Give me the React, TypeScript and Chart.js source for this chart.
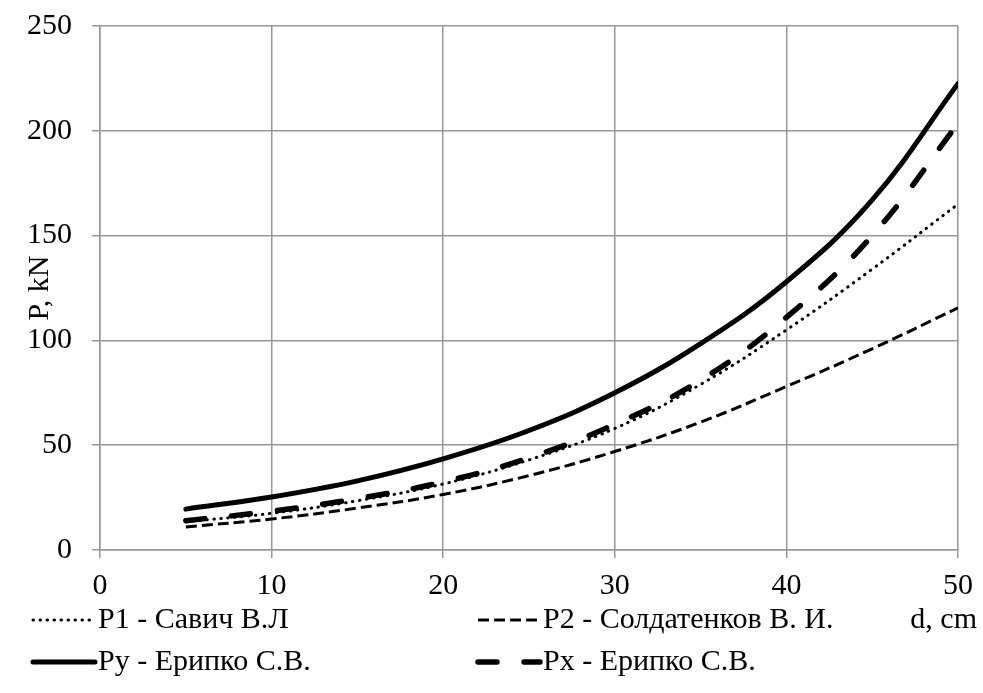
import { useEffect, useRef } from "react";
import { Chart, registerables } from "chart.js";

Chart.register(...registerables);

// Pile diameter d, cm
const diameters = [5, 10, 15, 20, 25, 30, 35, 40, 45, 50];

// Load P, kN for each method
const p1Savich = [13.5, 17.5, 23.5, 31.5, 43, 58, 79, 105, 134, 165];
const p2Soldatenkov = [11, 14.8, 20, 26.5, 35.5, 47, 61, 78, 96, 115.5];
const pyEripko = [19.5, 25.3, 33, 43.5, 57, 75, 98.5, 128, 167, 222.5];
const pxEripko = [14, 18.5, 24.5, 32.5, 44, 60, 81, 111, 150, 203.5];

const seriesLabels = [
  "P1 - Савич В.Л",
  "P2 - Солдатенков В. И.",
  "Py - Ерипко С.В.",
  "Px - Ерипко С.В.",
];

const xTitle = "d, cm";
const yTitle = "P, kN";

const FONT = "'Liberation Serif', 'Times New Roman', serif";
const FONT_SIZE = 30;
const GRID = "#989898";

const toPoints = (ys: number[]) => diameters.map((x, i) => ({ x, y: ys[i] }));

// Two-column legend under the plot, plus the x-axis caption at the right
const gridLegend = {
  id: "gridLegend",
  afterDraw(chart: any) {
    const ctx = chart.ctx as CanvasRenderingContext2D;
    const cols = [33, 478];
    const rows = [620, 662];
    const sampleLen = 62;
    ctx.save();
    chart.data.datasets.forEach((ds: any, i: number) => {
      const x = cols[i % 2];
      const y = rows[Math.floor(i / 2)];
      ctx.strokeStyle = ds.borderColor;
      ctx.lineWidth = ds.borderWidth;
      ctx.lineCap = ds.borderCapStyle || "butt";
      ctx.setLineDash(ds.borderDash || []);
      ctx.beginPath();
      ctx.moveTo(x, y);
      ctx.lineTo(x + sampleLen, y);
      ctx.stroke();
      ctx.setLineDash([]);
      ctx.fillStyle = "#000";
      ctx.font = `${FONT_SIZE}px ${FONT}`;
      ctx.textAlign = "left";
      ctx.textBaseline = "middle";
      ctx.fillText(ds.label, x + sampleLen + 3, y);
    });
    ctx.textAlign = "right";
    ctx.fillText(xTitle, 977, rows[0]);
    ctx.restore();
  },
};

export default function App() {
  const canvasRef = useRef<HTMLCanvasElement | null>(null);

  useEffect(() => {
    const canvas = canvasRef.current;
    if (!canvas) return;
    let chart: Chart | null = null;
    let cancelled = false;

    const build = () => {
      if (cancelled) return;
      chart = new Chart(canvas, {
        type: "line",
        data: {
          datasets: [
            {
              label: seriesLabels[0],
              data: toPoints(p1Savich),
              borderColor: "#000",
              borderWidth: 3,
              borderDash: [0.5, 6.5],
              borderCapStyle: "round",
            },
            {
              label: seriesLabels[1],
              data: toPoints(p2Soldatenkov),
              borderColor: "#000",
              borderWidth: 3,
              borderDash: [11, 5],
              borderCapStyle: "butt",
            },
            {
              label: seriesLabels[2],
              data: toPoints(pyEripko),
              borderColor: "#000",
              borderWidth: 5,
              borderCapStyle: "round",
            },
            {
              label: seriesLabels[3],
              data: toPoints(pxEripko),
              borderColor: "#000",
              borderWidth: 5.5,
              borderDash: [19, 27],
              borderCapStyle: "round",
            },
          ],
        },
        options: {
          responsive: false,
          animation: false,
          layout: { padding: { top: 26, right: 20, left: 0, bottom: 0 } },
          elements: {
            point: { radius: 0, hoverRadius: 0 },
            line: { tension: 0.4, fill: false },
          },
          plugins: {
            legend: { display: false },
            tooltip: { enabled: false },
          },
          scales: {
            x: {
              type: "linear",
              min: 0,
              max: 50,
              afterFit: (scale: any) => {
                scale.height = 143;
              },
              ticks: {
                stepSize: 10,
                padding: 10,
                color: "#000",
                font: { family: FONT, size: FONT_SIZE },
                maxRotation: 0,
              },
              grid: { color: GRID, lineWidth: 1.5, tickLength: 8 },
              border: { color: GRID, width: 1.5 },
            },
            y: {
              type: "linear",
              min: 0,
              max: 250,
              afterFit: (scale: any) => {
                scale.width = 100;
                scale.paddingTop = 0;
                scale.paddingBottom = 0;
              },
              ticks: {
                stepSize: 50,
                padding: 20,
                color: "#000",
                font: { family: FONT, size: FONT_SIZE },
              },
              grid: { color: GRID, lineWidth: 1.5, tickLength: 8 },
              border: { color: GRID, width: 1.5 },
              title: {
                display: true,
                text: yTitle,
                color: "#000",
                font: { family: FONT, size: FONT_SIZE },
                padding: { top: 22, bottom: 0 },
              },
            },
          },
        },
        plugins: [gridLegend],
      });
    };

    const fonts = (document as any).fonts;
    if (fonts && fonts.load) {
      Promise.all([
        fonts.load(`${FONT_SIZE}px 'Liberation Serif'`),
        fonts.load(`${FONT_SIZE}px 'Times New Roman'`),
      ])
        .catch(() => undefined)
        .then(build);
    } else {
      build();
    }

    return () => {
      cancelled = true;
      if (chart) chart.destroy();
    };
  }, []);

  return (
    <div style={{ position: "absolute", left: 0, top: 0, width: 983, height: 693, background: "#fff" }}>
      <canvas ref={canvasRef} width={983} height={693} style={{ display: "block" }} />
    </div>
  );
}
